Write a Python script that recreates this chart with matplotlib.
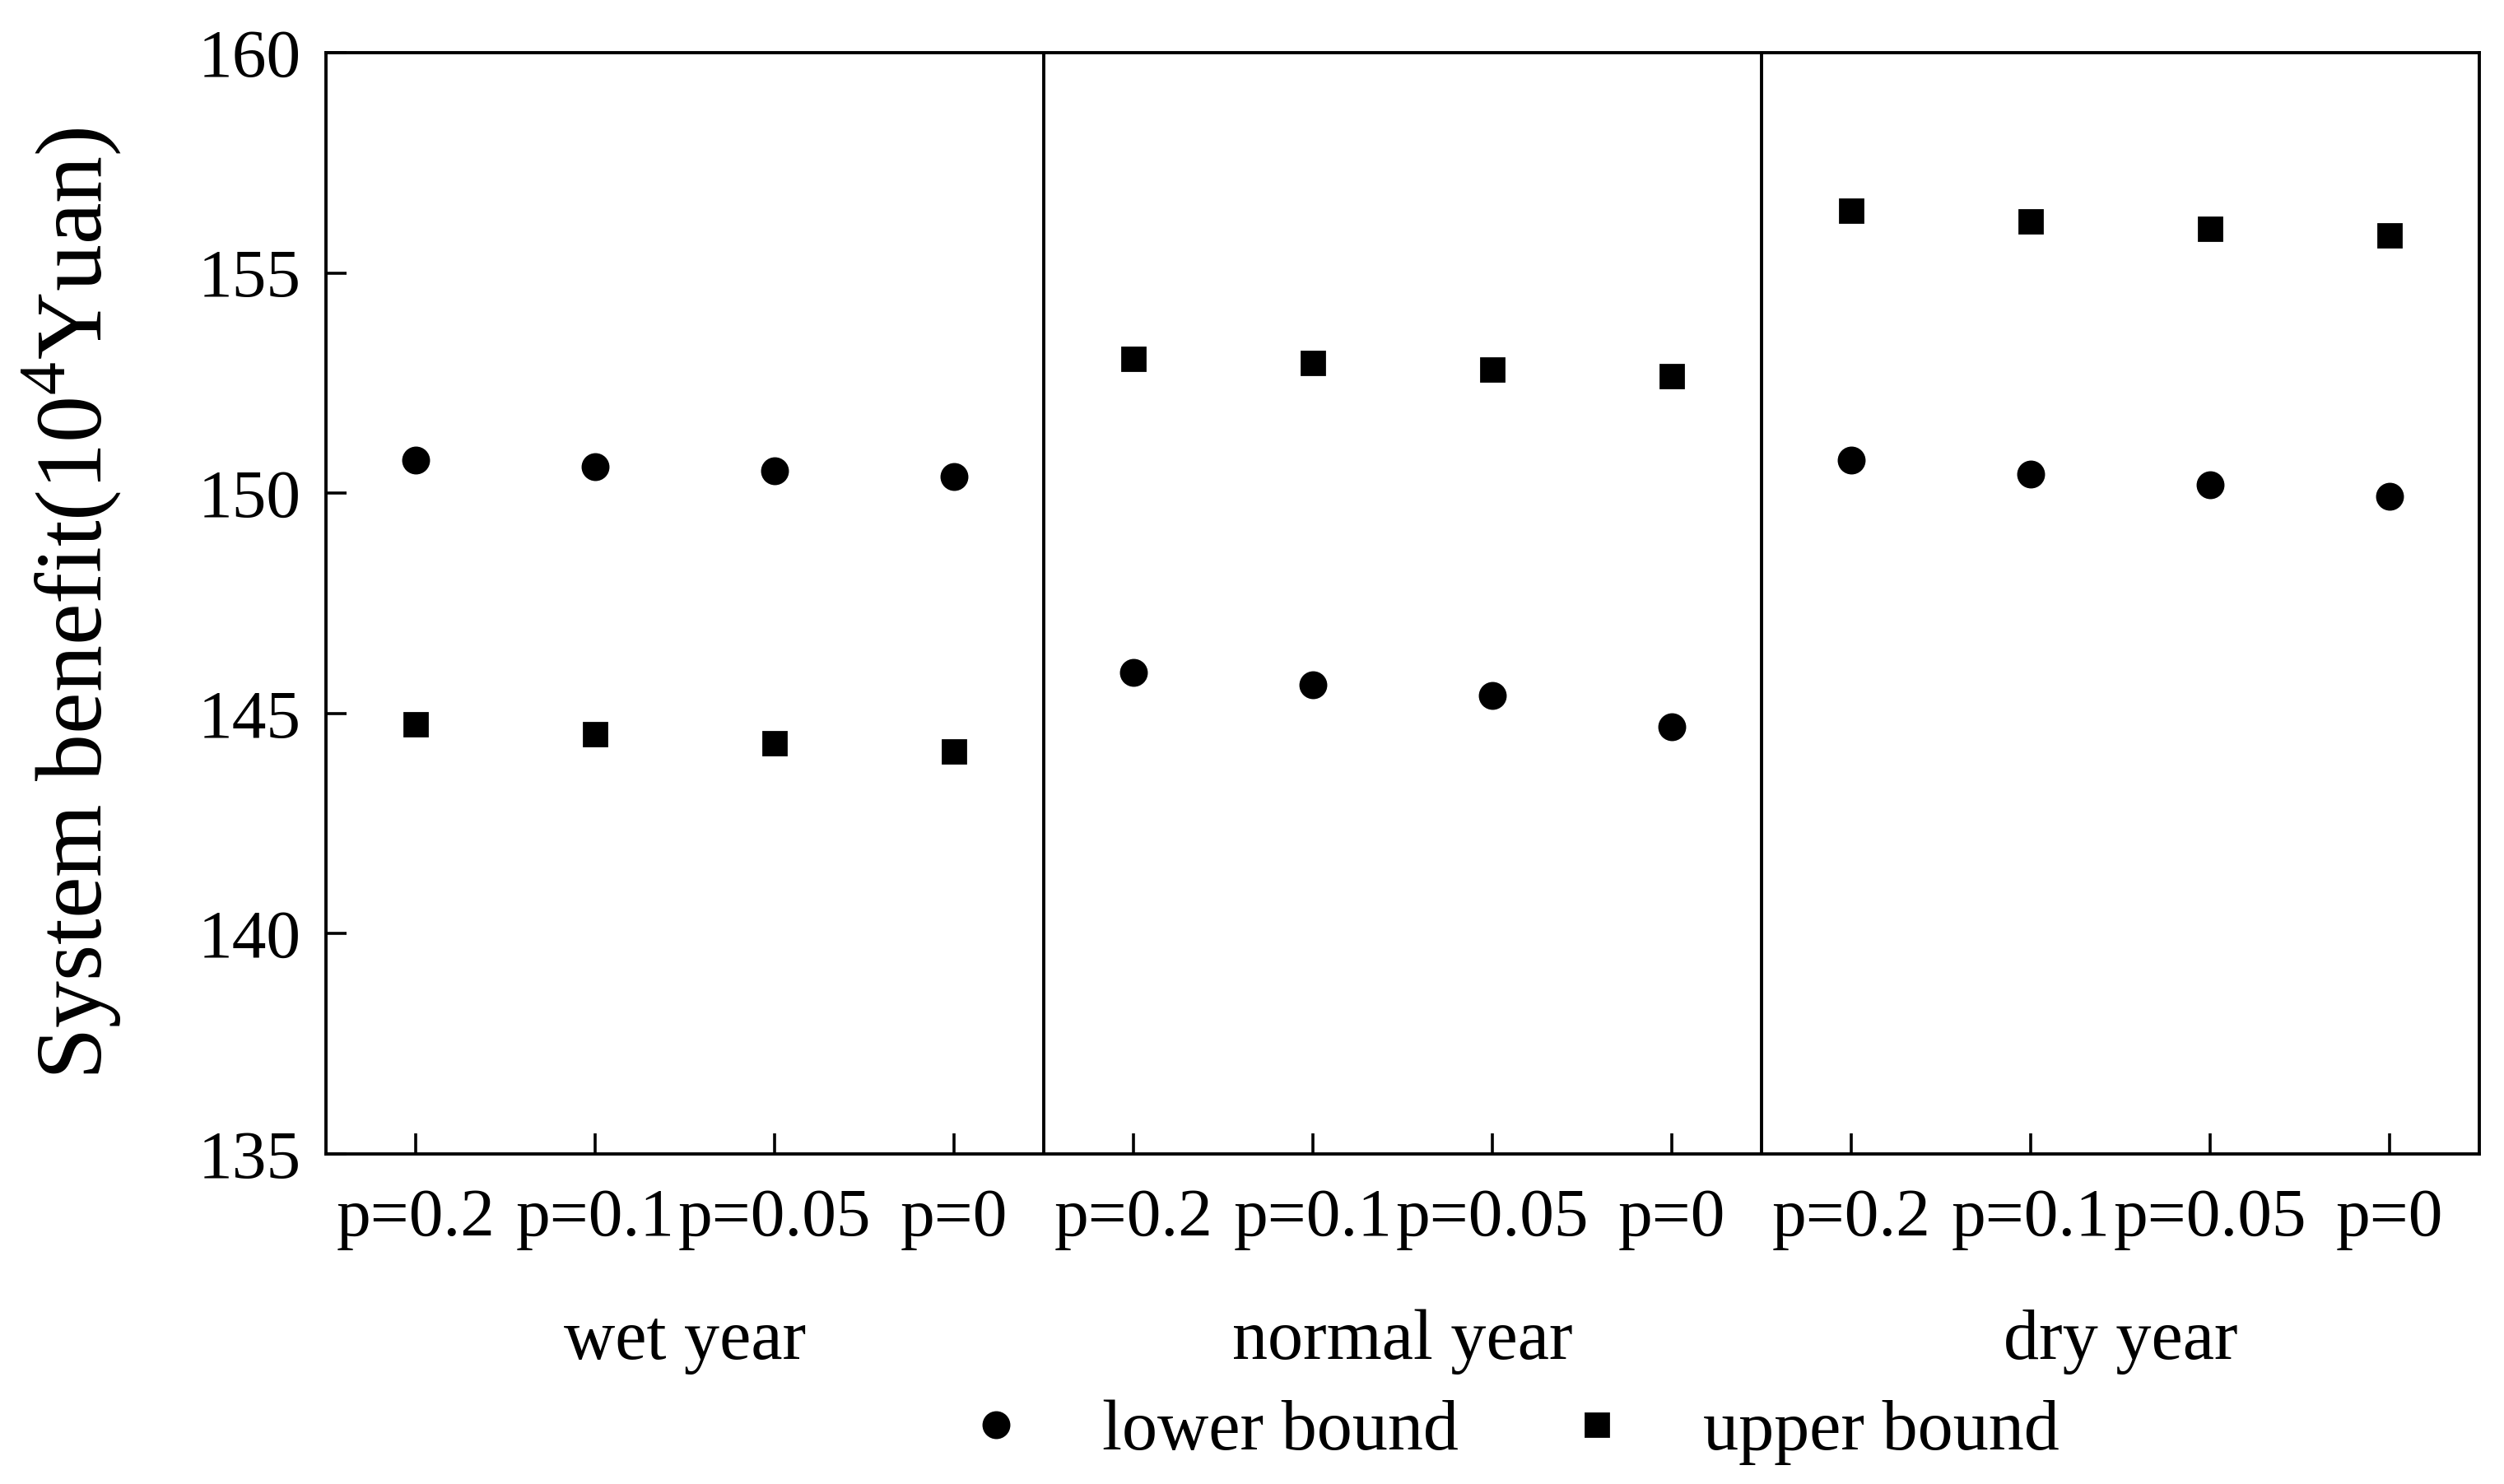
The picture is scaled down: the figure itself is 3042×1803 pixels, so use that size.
import numpy as np
import matplotlib
matplotlib.use("Agg")
import matplotlib.pyplot as plt
import matplotlib.transforms as mtransforms

plt.rcParams['font.family'] = ['Liberation Serif', 'DejaVu Serif']
plt.rcParams['mathtext.fontset'] = 'custom'
plt.rcParams['mathtext.rm'] = 'Liberation Serif'

# data
years = ["wet year", "normal year", "dry year"]
p_labels = ["p=0.2", "p=0.1", "p=0.05", "p=0"]

lower_wet = [150.75, 150.60, 150.50, 150.37]
lower_normal = [145.94, 145.65, 145.40, 144.70]
lower_dry = [150.75, 150.44, 150.19, 149.92]

upper_wet = [144.75, 144.53, 144.33, 144.13]
upper_normal = [153.05, 152.95, 152.80, 152.66]
upper_dry = [156.42, 156.17, 156.01, 155.86]

lower = lower_wet + lower_normal + lower_dry
upper = upper_wet + upper_normal + upper_dry
x = np.arange(len(lower))
n_p = len(p_labels)

fig = plt.figure(figsize=(15.21, 9.015), dpi=200)
ax = fig.add_axes([0.1302, 0.2224, 0.8599, 0.7421])

ax.plot(x, lower, linestyle="none", marker="o", markersize=11.2,
        color="black", label="lower bound")
ax.plot(x, upper, linestyle="none", marker="s", markersize=10.4,
        color="black", label="upper bound")

# separators between year types
for k in range(1, len(years)):
    ax.axvline(k * n_p - 0.5, color="black", linewidth=1.4)

ax.set_xlim(-0.5, len(lower) - 0.5)
ax.set_ylim(135, 160)
ax.set_yticks(np.arange(135, 161, 5))
ax.set_xticks(x)
ax.set_xticklabels(p_labels * len(years))

for side in ["left", "right", "top", "bottom"]:
    ax.spines[side].set_linewidth(1.4)

ax.tick_params(axis="both", direction="in", length=9, width=1.3,
               labelsize=30, top=False, right=False)
ax.tick_params(axis="y", pad=11)
ax.tick_params(axis="x", pad=15)

ax.set_ylabel(r"System benefit(10$^4$Yuan)", fontsize=41)
ax.yaxis.set_label_coords(-0.094, 0.5)

# group labels under the tick labels
trans = mtransforms.blended_transform_factory(ax.transData, ax.transAxes)
for k, name in enumerate(years):
    ax.text(k * n_p + (n_p - 1) / 2, -0.186, name, transform=trans,
            ha="center", va="baseline", fontsize=31)

fig.legend(loc="center", bbox_to_anchor=(0.596, 0.035), ncol=2,
           frameon=False, fontsize=31, handlelength=2.0,
           handletextpad=0.5, columnspacing=0.95)

fig.savefig("out.png", dpi=200)
